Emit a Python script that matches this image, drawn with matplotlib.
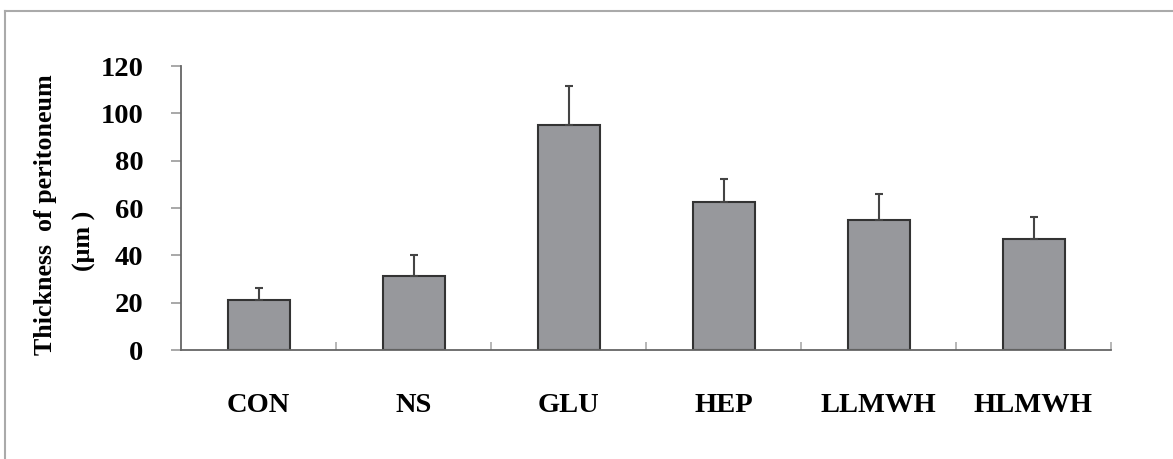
import numpy as np
import matplotlib
matplotlib.use("Agg")
import matplotlib.pyplot as plt
from matplotlib.lines import Line2D

groups = ["CON", "NS", "GLU", "HEP", "LLMWH", "HLMWH"]
thickness = [21.1, 31.4, 94.9, 62.7, 54.9, 46.9]
sd = [5.1, 8.6, 16.8, 9.7, 10.9, 9.4]
yticks = [0, 20, 40, 60, 80, 100, 120]

plt.rcParams['font.family'] = ['Liberation Serif', 'DejaVu Serif']
plt.rcParams['font.weight'] = 'bold'

fig = plt.figure(figsize=(11.73, 4.59), dpi=100)
ax = fig.add_axes([181/1173, 1-350/459, 930/1173, 284/459])

x = np.arange(len(groups))
ax.bar(x, thickness, width=0.4, color='#97989c', edgecolor='#333333', linewidth=1.5, zorder=2)
ax.errorbar(x, thickness, yerr=[np.zeros(len(sd)), sd], fmt='none', ecolor='#444444',
            elinewidth=1.5, capsize=3, capthick=1.5, zorder=3)

ax.set_xlim(-0.5, len(groups) - 0.5)
ax.set_ylim(0, 120)
ax.set_yticks(yticks)
ax.set_yticklabels([str(v) for v in yticks], fontsize=20.5, fontweight='bold')

# boundary ticks pointing up, labels at bar centres
ax.set_xticks(np.arange(len(groups)) + 0.5)
ax.set_xticklabels([])
ax.tick_params(axis='x', which='major', direction='in', length=6, width=1.2, color='#aaaaaa')
ax.set_xticks(x, minor=True)
ax.set_xticklabels(groups, minor=True, fontsize=20.5, fontweight='bold')
ax.tick_params(axis='x', which='minor', length=0, pad=31)
ax.tick_params(axis='y', direction='out', length=7, width=1.2, color='#999999', pad=20)

for s in ['top', 'right']:
    ax.spines[s].set_visible(False)
for s in ['left', 'bottom']:
    ax.spines[s].set_color('#666666')
    ax.spines[s].set_linewidth(1.3)

fig.text(46/1173, 1-215/459, "Thickness  of peritoneum", rotation=90, ha='center', va='center',
         fontsize=18.7, fontweight='bold')
fig.text(84/1173, 1-241/459, "(\u03bcm )", rotation=90, ha='center', va='center',
         fontsize=18.7, fontweight='bold')

# gray frame (top and left edges visible)
fig.add_artist(Line2D([5/1173, 1], [1-11/459, 1-11/459], color='#aaaaaa', linewidth=1.5,
                      transform=fig.transFigure))
fig.add_artist(Line2D([5/1173, 5/1173], [0, 1-11/459], color='#aaaaaa', linewidth=1.5,
                      transform=fig.transFigure))

fig.savefig("out.png", dpi=100)
